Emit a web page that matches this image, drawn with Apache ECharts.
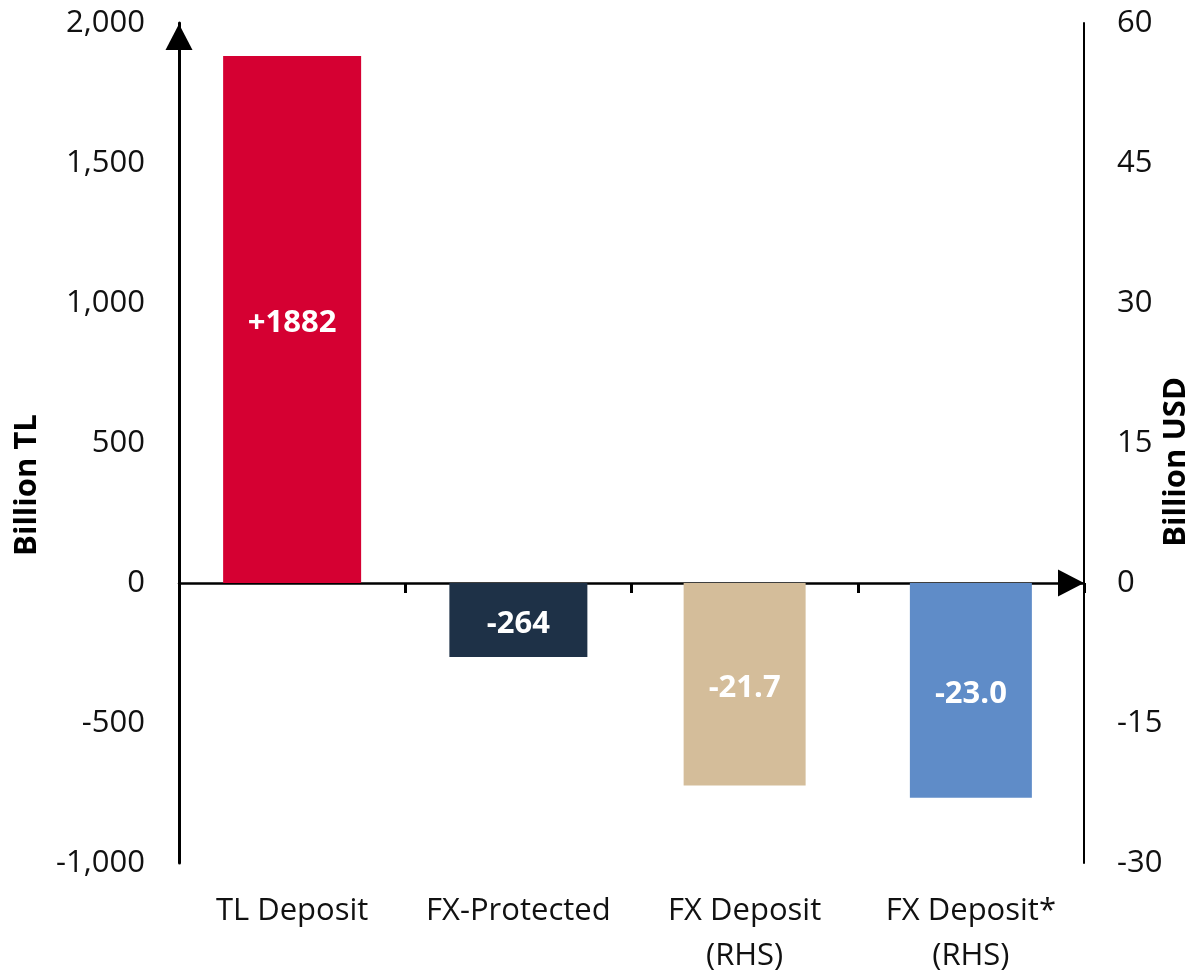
<!DOCTYPE html>
<html>
<head>
<meta charset="utf-8">
<script src="https://cdn.jsdelivr.net/npm/echarts@6/dist/echarts.min.js"></script>
<style>
  html, body { margin: 0; padding: 0; background: #fff; }
  #main { width: 1190px; height: 973px; }
</style>
</head>
<body>
<div id="main"></div>
<script>
// categories and values
const categories = ['TL Deposit', 'FX-Protected', 'FX Deposit\n(RHS)', 'FX Deposit*\n(RHS)'];
const tlValues = [1882, -264, null, null];     // Billion TL, left axis
const usdValues = [null, null, -21.7, -23.0];  // Billion USD, right axis
const barLabels = ['+1882', '-264', '-21.7', '-23.0'];
const barColors = ['#D50032', '#1E3147', '#D4BD9A', '#5F8CC8'];
const leftTicks = [-1000, -500, 0, 500, 1000, 1500, 2000];
const rightTicks = [-30, -15, 0, 15, 30, 45, 60];

const FONT = '"Open Sans", sans-serif';
const chart = echarts.init(document.getElementById('main'), null, { renderer: 'canvas' });

// bar data with per-item colors
function toItems(values) {
  return values.map((v, i) => v == null ? null : {
    value: v,
    itemStyle: { color: barColors[i] }
  });
}

const barLabel = {
  show: true,
  position: 'inside',
  offset: [0, 4],
  color: '#fff',
  fontFamily: FONT,
  fontWeight: 'bold',
  fontSize: 31,
  formatter: p => barLabels[p.dataIndex]
};

const option = {
  animation: false,
  grid: {
    left: 179, right: 106, top: 23, bottom: 110,
    containLabel: false,
    outerBoundsMode: 'none'
  },
  xAxis: [
    {
      // axis line through zero, with arrow
      type: 'category',
      data: categories,
      axisLine: {
        onZero: true,
        onZeroAxisIndex: 0,
        symbol: ['none', 'triangle'],
        symbolSize: [27, 26],
        symbolOffset: [0, -13],
        lineStyle: { color: '#000', width: 2.5 }
      },
      axisTick: { show: true, length: 10, lineStyle: { color: '#000', width: 3 } },
      axisLabel: { show: false }
    },
    {
      // labels at the bottom
      type: 'category',
      data: categories,
      position: 'bottom',
      axisLine: { show: false, onZero: false },
      axisTick: { show: false },
      axisLabel: {
        interval: 0,
        margin: 26,
        color: '#111',
        fontFamily: FONT,
        fontSize: 31,
        lineHeight: 45
      }
    }
  ],
  yAxis: [
    {
      type: 'value',
      min: leftTicks[0],
      max: leftTicks[leftTicks.length - 1],
      interval: leftTicks[1] - leftTicks[0],
      name: 'Billion TL',
      nameLocation: 'middle',
      nameRotate: 90,
      nameGap: 136,
      nameMoveOverlap: false,
      nameTextStyle: {
        color: '#000',
        fontFamily: FONT,
        fontWeight: 'bold',
        fontSize: 31,
        padding: [0, 84, 0, 0]
      },
      axisLine: {
        show: true,
        symbol: ['none', 'triangle'],
        symbolSize: [27, 26],
        symbolOffset: [0, -14],
        lineStyle: { color: '#000', width: 3 }
      },
      axisTick: { show: false },
      splitLine: { show: false },
      axisLabel: {
        margin: 34,
        color: '#111',
        fontFamily: FONT,
        fontSize: 31
      }
    },
    {
      type: 'value',
      position: 'right',
      min: rightTicks[0],
      max: rightTicks[rightTicks.length - 1],
      interval: rightTicks[1] - rightTicks[0],
      name: 'Billion USD',
      nameLocation: 'middle',
      nameRotate: 90,
      nameGap: 77,
      nameMoveOverlap: false,
      nameTextStyle: {
        color: '#000',
        fontFamily: FONT,
        fontWeight: 'bold',
        fontSize: 31,
        padding: [0, 38, 0, 0]
      },
      axisLine: { show: true, lineStyle: { color: '#000', width: 2 } },
      axisTick: { show: false },
      splitLine: { show: false },
      axisLabel: {
        margin: 33,
        color: '#111',
        fontFamily: FONT,
        fontSize: 31
      }
    }
  ],
  series: [
    {
      name: 'TL',
      type: 'bar',
      xAxisIndex: 0,
      yAxisIndex: 0,
      barWidth: 138,
      data: toItems(tlValues),
      label: barLabel
    },
    {
      name: 'USD',
      type: 'bar',
      xAxisIndex: 1,
      yAxisIndex: 1,
      barWidth: 122,
      data: toItems(usdValues),
      label: barLabel
    }
  ]
};

chart.setOption(option);
</script>
</body>
</html>
